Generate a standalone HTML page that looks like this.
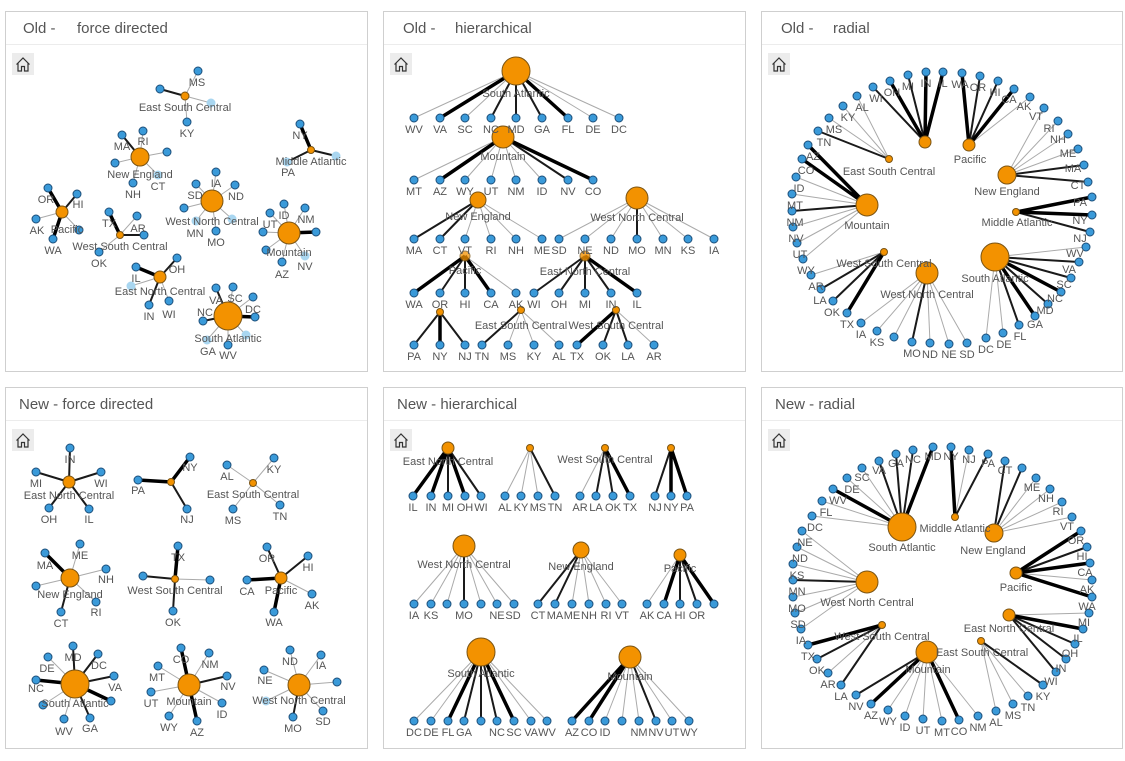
<!DOCTYPE html>
<html><head><meta charset="utf-8"><style>
html,body{margin:0;padding:0;background:#fff;}
svg{display:block;font-family:"Liberation Sans",sans-serif;}
.pn{fill:#fff;stroke:#cfcfcf;stroke-width:1}
.hd{stroke:#ececec;stroke-width:1}
.tt{font-size:15px;fill:#555}
.l{stroke:#aaa;stroke-width:1;fill:none}
.d{stroke:#1a1a1a;stroke-width:2;fill:none}
.D{stroke:#000;stroke-width:3.5;fill:none}
.lf circle{fill:#3a9ad9;stroke:#1d4f7a;stroke-width:1}
.hb circle{fill:#f39200;stroke:#7a5414;stroke-width:1}
.tx text{font-size:11px;fill:#555;text-anchor:middle}
.hm{fill:#ececec}
.hi{fill:none;stroke:#333;stroke-width:1.2}
</style></head><body>
<svg width="1125" height="761" viewBox="0 0 1125 761">
<rect class="pn" x="5.5" y="11.5" width="362" height="360"/>
<rect class="pn" x="383.5" y="11.5" width="362" height="360"/>
<rect class="pn" x="761.5" y="11.5" width="361" height="360"/>
<rect class="pn" x="5.5" y="387.5" width="362" height="361"/>
<rect class="pn" x="383.5" y="387.5" width="362" height="361"/>
<rect class="pn" x="761.5" y="387.5" width="361" height="361"/>
<line class="hd" x1="6" y1="44.5" x2="367" y2="44.5"/><line class="hd" x1="384" y1="44.5" x2="745" y2="44.5"/><line class="hd" x1="762" y1="44.5" x2="1122" y2="44.5"/>
<line class="hd" x1="6" y1="420.5" x2="367" y2="420.5"/><line class="hd" x1="384" y1="420.5" x2="745" y2="420.5"/><line class="hd" x1="762" y1="420.5" x2="1122" y2="420.5"/>
<text class="tt" x="23" y="33">Old -</text><text class="tt" x="77" y="33">force directed</text>
<text class="tt" x="403" y="33">Old -</text><text class="tt" x="455" y="33">hierarchical</text>
<text class="tt" x="781" y="33">Old -</text><text class="tt" x="833" y="33">radial</text>
<text class="tt" x="19" y="409">New - force directed</text>
<text class="tt" x="397" y="409">New - hierarchical</text>
<text class="tt" x="775" y="409">New - radial</text>
<g><rect class="hm" x="12" y="53" width="22" height="22"/><path class="hi" d="M16.5 64.5L23 58L29.5 64.5M18 63V71H21.5V66.5H24.5V71H28V63"/></g>
<g transform="translate(378,0)"><rect class="hm" x="12" y="53" width="22" height="22"/><path class="hi" d="M16.5 64.5L23 58L29.5 64.5M18 63V71H21.5V66.5H24.5V71H28V63"/></g>
<g transform="translate(756,0)"><rect class="hm" x="12" y="53" width="22" height="22"/><path class="hi" d="M16.5 64.5L23 58L29.5 64.5M18 63V71H21.5V66.5H24.5V71H28V63"/></g>
<g transform="translate(0,376)"><rect class="hm" x="12" y="53" width="22" height="22"/><path class="hi" d="M16.5 64.5L23 58L29.5 64.5M18 63V71H21.5V66.5H24.5V71H28V63"/></g>
<g transform="translate(378,376)"><rect class="hm" x="12" y="53" width="22" height="22"/><path class="hi" d="M16.5 64.5L23 58L29.5 64.5M18 63V71H21.5V66.5H24.5V71H28V63"/></g>
<g transform="translate(756,376)"><rect class="hm" x="12" y="53" width="22" height="22"/><path class="hi" d="M16.5 64.5L23 58L29.5 64.5M18 63V71H21.5V66.5H24.5V71H28V63"/></g>

<!-- PANEL 1 -->
<path class="l" d="M185 96L198 71M185 96L211 103M185 96L187 122M140 157L143 131M140 157L167 152M140 157L115 163M140 157L133 183M140 157L158 175M212 201L216 172M212 201L196 184M212 201L235 185M212 201L184 208M212 201L196 221M212 201L232 219M212 201L216 231M289 233L284 204M289 233L305 208M289 233L270 213M289 233L263 232M289 233L266 250M289 233L305 256M289 233L282 262M62 212L36 219M62 212L79 230M120 235L137 216M120 235L99 252M160 277L131 286M160 277L169 301M228 316L233 287M228 316L253 297M228 316L246 335M228 316L207 340M228 316L228 345"/>
<path class="d" d="M185 96L160 89M140 157L122 135M311 150L336 156M311 150L287 162M62 212L77 194M120 235L144 235M160 277L177 258M160 277L149 305M228 316L216 288M228 316L203 321"/>
<path class="D" d="M311 150L300 124M289 233L316 232M62 212L48 188M62 212L53 239M120 235L109 212M160 277L136 267M228 316L255 317"/>
<g class="lf">
<circle cx="198" cy="71" r="4"/><circle cx="160" cy="89" r="4"/><circle cx="211" cy="103" r="4" style="fill:#a9d6f0;stroke:#a9d6f0"/><circle cx="187" cy="122" r="4"/>
<circle cx="122" cy="135" r="4"/><circle cx="143" cy="131" r="4"/><circle cx="167" cy="152" r="4"/><circle cx="115" cy="163" r="4"/><circle cx="133" cy="183" r="4"/><circle cx="158" cy="175" r="4" style="fill:#a9d6f0;stroke:#a9d6f0"/>
<circle cx="300" cy="124" r="4"/><circle cx="336" cy="156" r="4" style="fill:#a9d6f0;stroke:#a9d6f0"/><circle cx="287" cy="162" r="4" style="fill:#a9d6f0;stroke:#a9d6f0"/>
<circle cx="216" cy="172" r="4"/><circle cx="196" cy="184" r="4"/><circle cx="235" cy="185" r="4"/><circle cx="184" cy="208" r="4"/><circle cx="196" cy="221" r="4" style="fill:#a9d6f0;stroke:#a9d6f0"/><circle cx="232" cy="219" r="4" style="fill:#a9d6f0;stroke:#a9d6f0"/><circle cx="216" cy="231" r="4"/>
<circle cx="284" cy="204" r="4"/><circle cx="305" cy="208" r="4"/><circle cx="270" cy="213" r="4"/><circle cx="316" cy="232" r="4"/><circle cx="263" cy="232" r="4"/><circle cx="266" cy="250" r="4"/><circle cx="305" cy="256" r="4" style="fill:#a9d6f0;stroke:#a9d6f0"/><circle cx="282" cy="262" r="4"/>
<circle cx="48" cy="188" r="4"/><circle cx="77" cy="194" r="4"/><circle cx="36" cy="219" r="4"/><circle cx="79" cy="230" r="4"/><circle cx="53" cy="239" r="4"/>
<circle cx="109" cy="212" r="4"/><circle cx="137" cy="216" r="4"/><circle cx="144" cy="235" r="4"/><circle cx="99" cy="252" r="4"/>
<circle cx="177" cy="258" r="4"/><circle cx="136" cy="267" r="4"/><circle cx="131" cy="286" r="4" style="fill:#a9d6f0;stroke:#a9d6f0"/><circle cx="149" cy="305" r="4"/><circle cx="169" cy="301" r="4"/>
<circle cx="216" cy="288" r="4"/><circle cx="233" cy="287" r="4"/><circle cx="253" cy="297" r="4"/><circle cx="203" cy="321" r="4"/><circle cx="255" cy="317" r="4"/><circle cx="246" cy="335" r="4" style="fill:#a9d6f0;stroke:#a9d6f0"/><circle cx="207" cy="340" r="4" style="fill:#a9d6f0;stroke:#a9d6f0"/><circle cx="228" cy="345" r="4"/>
</g>
<g class="hb"><circle cx="185" cy="96" r="4"/><circle cx="140" cy="157" r="9"/><circle cx="311" cy="150" r="3.5"/><circle cx="212" cy="201" r="11"/><circle cx="289" cy="233" r="11"/><circle cx="62" cy="212" r="6"/><circle cx="120" cy="235" r="3.5"/><circle cx="160" cy="277" r="6"/><circle cx="228" cy="316" r="14"/></g>
<g class="tx">
<text x="197" y="86">MS</text><text x="185" y="111">East South Central</text><text x="187" y="137">KY</text>
<text x="122" y="150">MA</text><text x="143" y="145">RI</text><text x="140" y="178">New England</text><text x="158" y="190">CT</text><text x="133" y="198">NH</text>
<text x="300" y="139">NY</text><text x="311" y="165">Middle Atlantic</text><text x="288" y="176">PA</text>
<text x="216" y="187">IA</text><text x="195" y="199">SD</text><text x="236" y="200">ND</text><text x="212" y="225">West North Central</text><text x="195" y="237">MN</text><text x="216" y="246">MO</text>
<text x="284" y="219">ID</text><text x="306" y="223">NM</text><text x="270" y="228">UT</text><text x="289" y="256">Mountain</text><text x="305" y="270">NV</text><text x="282" y="278">AZ</text>
<text x="46" y="203">OR</text><text x="78" y="208">HI</text><text x="37" y="234">AK</text><text x="67" y="233">Pacific</text><text x="53" y="254">WA</text>
<text x="109" y="227">TX</text><text x="138" y="232">AR</text><text x="120" y="250">West South Central</text><text x="99" y="267">OK</text>
<text x="177" y="273">OH</text><text x="136" y="282">IL</text><text x="160" y="295">East North Central</text><text x="149" y="320">IN</text><text x="169" y="318">WI</text>
<text x="216" y="304">VA</text><text x="235" y="302">SC</text><text x="253" y="313">DC</text><text x="205" y="316">NC</text><text x="228" y="342">South Atlantic</text><text x="208" y="355">GA</text><text x="228" y="359">WV</text>
</g>

<!-- PANEL 2 -->
<path class="l" d="M516 71L414 118M516 71L465 118M516 71L593 118M516 71L619 118M503 137L414 180M503 137L465 180M503 137L491 180M503 137L516 180M503 137L542 180M478 200L465 239M478 200L491 239M478 200L516 239M478 200L542 239M637 198L559 239M637 198L585 239M637 198L611 239M637 198L663 239M637 198L688 239M637 198L714 239M465 256L516 293M521 310L508 345M521 310L534 345M521 310L559 345M616 310L654 345"/>
<path class="d" d="M516 71L491 118M516 71L516 118M516 71L542 118M503 137L568 180M478 200L414 239M478 200L440 239M637 198L637 239M465 256L440 293M465 256L465 293M585 256L534 293M585 256L559 293M585 256L585 293M585 256L611 293M440 312L414 345M440 312L465 345M521 310L482 345M616 310L603 345M616 310L628 345"/>
<path class="D" d="M516 71L440 118M516 71L568 118M503 137L440 180M503 137L593 180M465 256L414 293M465 256L491 293M585 256L637 293M440 312L440 345M616 310L577 345"/>
<g class="lf">
<circle cx="414" cy="118" r="4"/><circle cx="440" cy="118" r="4"/><circle cx="465" cy="118" r="4"/><circle cx="491" cy="118" r="4"/><circle cx="516" cy="118" r="4"/><circle cx="542" cy="118" r="4"/><circle cx="568" cy="118" r="4"/><circle cx="593" cy="118" r="4"/><circle cx="619" cy="118" r="4"/>
<circle cx="414" cy="180" r="4"/><circle cx="440" cy="180" r="4"/><circle cx="465" cy="180" r="4"/><circle cx="491" cy="180" r="4"/><circle cx="516" cy="180" r="4"/><circle cx="542" cy="180" r="4"/><circle cx="568" cy="180" r="4"/><circle cx="593" cy="180" r="4"/>
<circle cx="414" cy="239" r="4"/><circle cx="440" cy="239" r="4"/><circle cx="465" cy="239" r="4"/><circle cx="491" cy="239" r="4"/><circle cx="516" cy="239" r="4"/><circle cx="542" cy="239" r="4"/>
<circle cx="559" cy="239" r="4"/><circle cx="585" cy="239" r="4"/><circle cx="611" cy="239" r="4"/><circle cx="637" cy="239" r="4"/><circle cx="663" cy="239" r="4"/><circle cx="688" cy="239" r="4"/><circle cx="714" cy="239" r="4"/>
<circle cx="414" cy="293" r="4"/><circle cx="440" cy="293" r="4"/><circle cx="465" cy="293" r="4"/><circle cx="491" cy="293" r="4"/><circle cx="516" cy="293" r="4"/>
<circle cx="534" cy="293" r="4"/><circle cx="559" cy="293" r="4"/><circle cx="585" cy="293" r="4"/><circle cx="611" cy="293" r="4"/><circle cx="637" cy="293" r="4"/>
<circle cx="414" cy="345" r="4"/><circle cx="440" cy="345" r="4"/><circle cx="465" cy="345" r="4"/>
<circle cx="482" cy="345" r="4"/><circle cx="508" cy="345" r="4"/><circle cx="534" cy="345" r="4"/><circle cx="559" cy="345" r="4"/>
<circle cx="577" cy="345" r="4"/><circle cx="603" cy="345" r="4"/><circle cx="628" cy="345" r="4"/><circle cx="654" cy="345" r="4"/>
</g>
<g class="hb"><circle cx="516" cy="71" r="14"/><circle cx="503" cy="137" r="11"/><circle cx="478" cy="200" r="8"/><circle cx="637" cy="198" r="11"/><circle cx="465" cy="256" r="5" style="opacity:.75"/><circle cx="585" cy="256" r="5" style="opacity:.8"/><circle cx="440" cy="312" r="3.5"/><circle cx="521" cy="310" r="3.5"/><circle cx="616" cy="310" r="3.5"/></g>
<g class="tx">
<text x="516" y="97">South Atlantic</text><text x="503" y="160">Mountain</text><text x="478" y="220">New England</text><text x="637" y="221">West North Central</text><text x="465" y="274">Pacific</text><text x="585" y="275">East North Central</text><text x="521" y="329">East South Central</text><text x="616" y="329">West South Central</text>
<text x="414" y="133">WV</text><text x="440" y="133">VA</text><text x="465" y="133">SC</text><text x="491" y="133">NC</text><text x="516" y="133">MD</text><text x="542" y="133">GA</text><text x="568" y="133">FL</text><text x="593" y="133">DE</text><text x="619" y="133">DC</text>
<text x="414" y="195">MT</text><text x="440" y="195">AZ</text><text x="465" y="195">WY</text><text x="491" y="195">UT</text><text x="516" y="195">NM</text><text x="542" y="195">ID</text><text x="568" y="195">NV</text><text x="593" y="195">CO</text>
<text x="414" y="254">MA</text><text x="440" y="254">CT</text><text x="465" y="254">VT</text><text x="491" y="254">RI</text><text x="516" y="254">NH</text><text x="542" y="254">ME</text>
<text x="559" y="254">SD</text><text x="585" y="254">NE</text><text x="611" y="254">ND</text><text x="637" y="254">MO</text><text x="663" y="254">MN</text><text x="688" y="254">KS</text><text x="714" y="254">IA</text>
<text x="414" y="308">WA</text><text x="440" y="308">OR</text><text x="465" y="308">HI</text><text x="491" y="308">CA</text><text x="516" y="308">AK</text>
<text x="534" y="308">WI</text><text x="559" y="308">OH</text><text x="585" y="308">MI</text><text x="611" y="308">IN</text><text x="637" y="308">IL</text>
<text x="414" y="360">PA</text><text x="440" y="360">NY</text><text x="465" y="360">NJ</text>
<text x="482" y="360">TN</text><text x="508" y="360">MS</text><text x="534" y="360">KY</text><text x="559" y="360">AL</text>
<text x="577" y="360">TX</text><text x="603" y="360">OK</text><text x="628" y="360">LA</text><text x="654" y="360">AR</text>
</g>

<!-- PANEL 3 -->
<path class="l" d="M969 145L1030 97M1007 175L1044 108M1007 175L1058 121M1007 175L1068 134M1007 175L1078 149M995 257L1086 247M995 257L1003 333M995 257L986 338M927 273L967 343M927 273L949 344M927 273L930 343M927 273L894 337M927 273L877 331M927 273L861 323M884 252L811 275M867 205L803 259M867 205L797 243M867 205L793 227M867 205L792 194M867 205L796 177M889 159L829 118M889 159L843 106M889 159L857 96"/>
<path class="d" d="M925 142L873 87M925 142L908 75M969 145L980 76M969 145L998 81M1007 175L1084 165M1007 175L1088 182M1016 212L1090 232M995 257L1079 262M995 257L1071 278M995 257L1048 304M995 257L1019 325M927 273L912 342M884 252L833 301M884 252L821 289M867 205L792 211M889 159L818 131"/>
<path class="D" d="M925 142L890 81M925 142L926 72M925 142L943 72M969 145L962 73M969 145L1014 89M1016 212L1092 197M1016 212L1092 215M995 257L1061 292M995 257L1035 316M884 252L847 313M867 205L802 159M867 205L808 145"/>
<g class="lf">
<circle cx="811" cy="275" r="4"/><circle cx="803" cy="259" r="4"/><circle cx="797" cy="243" r="4"/><circle cx="793" cy="227" r="4"/><circle cx="792" cy="211" r="4"/><circle cx="792" cy="194" r="4"/><circle cx="796" cy="177" r="4"/><circle cx="802" cy="159" r="4"/><circle cx="808" cy="145" r="4"/><circle cx="818" cy="131" r="4"/><circle cx="829" cy="118" r="4"/><circle cx="843" cy="106" r="4"/><circle cx="857" cy="96" r="4"/><circle cx="873" cy="87" r="4"/><circle cx="890" cy="81" r="4"/><circle cx="908" cy="75" r="4"/><circle cx="926" cy="72" r="4"/><circle cx="943" cy="72" r="4"/><circle cx="962" cy="73" r="4"/><circle cx="980" cy="76" r="4"/><circle cx="998" cy="81" r="4"/><circle cx="1014" cy="89" r="4"/><circle cx="1030" cy="97" r="4"/><circle cx="1044" cy="108" r="4"/><circle cx="1058" cy="121" r="4"/><circle cx="1068" cy="134" r="4"/><circle cx="1078" cy="149" r="4"/><circle cx="1084" cy="165" r="4"/><circle cx="1088" cy="182" r="4"/><circle cx="1092" cy="197" r="4"/><circle cx="1092" cy="215" r="4"/><circle cx="1090" cy="232" r="4"/><circle cx="1086" cy="247" r="4"/><circle cx="1079" cy="262" r="4"/><circle cx="1071" cy="278" r="4"/><circle cx="1061" cy="292" r="4"/><circle cx="1048" cy="304" r="4"/><circle cx="1035" cy="316" r="4"/><circle cx="1019" cy="325" r="4"/><circle cx="1003" cy="333" r="4"/><circle cx="986" cy="338" r="4"/><circle cx="967" cy="343" r="4"/><circle cx="949" cy="344" r="4"/><circle cx="930" cy="343" r="4"/><circle cx="912" cy="342" r="4"/><circle cx="894" cy="337" r="4"/><circle cx="877" cy="331" r="4"/><circle cx="861" cy="323" r="4"/><circle cx="847" cy="313" r="4"/><circle cx="833" cy="301" r="4"/><circle cx="821" cy="289" r="4"/>
</g>
<g class="hb"><circle cx="925" cy="142" r="6"/><circle cx="969" cy="145" r="6"/><circle cx="1007" cy="175" r="9"/><circle cx="1016" cy="212" r="3.5"/><circle cx="995" cy="257" r="14"/><circle cx="927" cy="273" r="11"/><circle cx="884" cy="252" r="3.5"/><circle cx="867" cy="205" r="11"/><circle cx="889" cy="159" r="3.5"/></g>
<g class="tx">
<text x="889" y="175">East South Central</text><text x="970" y="163">Pacific</text><text x="1007" y="195">New England</text><text x="1017" y="226">Middle Atlantic</text><text x="995" y="282">South Atlantic</text><text x="927" y="298">West North Central</text><text x="884" y="267">West South Central</text><text x="867" y="229">Mountain</text>
<text x="816" y="290">AR</text><text x="806" y="274">WY</text><text x="800" y="258">UT</text><text x="796" y="242">NV</text><text x="795" y="226">NM</text><text x="795" y="209">MT</text><text x="799" y="192">ID</text><text x="806" y="174">CO</text><text x="813" y="160">AZ</text><text x="824" y="146">TN</text><text x="834" y="133">MS</text><text x="848" y="121">KY</text><text x="862" y="111">AL</text><text x="876" y="102">WI</text><text x="892" y="96">OH</text><text x="908" y="90">MI</text><text x="926" y="87">IN</text><text x="943" y="87">IL</text><text x="960" y="88">WA</text><text x="978" y="91">OR</text><text x="995" y="96">HI</text><text x="1009" y="103">CA</text><text x="1024" y="110">AK</text><text x="1036" y="120">VT</text><text x="1049" y="132">RI</text><text x="1058" y="143">NH</text><text x="1068" y="157">ME</text><text x="1073" y="172">MA</text><text x="1078" y="189">CT</text><text x="1080" y="206">PA</text><text x="1080" y="224">NY</text><text x="1080" y="242">NJ</text><text x="1075" y="257">WV</text><text x="1069" y="273">VA</text><text x="1064" y="288">SC</text><text x="1055" y="302">NC</text><text x="1045" y="314">MD</text><text x="1035" y="328">GA</text><text x="1020" y="340">FL</text><text x="1004" y="348">DE</text><text x="986" y="353">DC</text><text x="967" y="358">SD</text><text x="949" y="358">NE</text><text x="930" y="358">ND</text><text x="912" y="357">MO</text><text x="877" y="346">KS</text><text x="861" y="338">IA</text><text x="847" y="328">TX</text><text x="832" y="316">OK</text><text x="820" y="304">LA</text>
</g>

<!-- PANEL 4 -->
<path class="l" d="M253 483L227 465M253 483L274 458M253 483L280 505M253 483L233 509M70 578L80 544M70 578L106 569M70 578L36 586M70 578L96 602M175 579L210 580M281 578L312 594M75 684L48 657M75 684L43 705M75 684L64 719M189 685L209 653M189 685L158 666M189 685L151 692M189 685L222 703M189 685L169 716M299 685L290 650M299 685L321 655M299 685L264 670M299 685L337 682M299 685L266 701M299 685L323 711"/>
<path class="d" d="M69 482L70 448M69 482L36 472M69 482L101 472M69 482L49 508M69 482L89 509M171 482L187 509M70 578L61 612M175 579L143 576M175 579L173 611M281 578L267 547M281 578L308 556M75 684L73 646M75 684L98 654M75 684L114 676M75 684L90 718M189 685L227 676M299 685L293 717"/>
<path class="D" d="M171 482L190 457M171 482L138 480M70 578L45 553M175 579L178 546M281 578L247 580M281 578L274 612M75 684L36 680M75 684L111 701M189 685L181 648M189 685L197 721"/>
<g class="lf">
<circle cx="70" cy="448" r="4"/><circle cx="36" cy="472" r="4"/><circle cx="101" cy="472" r="4"/><circle cx="49" cy="508" r="4"/><circle cx="89" cy="509" r="4"/>
<circle cx="190" cy="457" r="4"/><circle cx="138" cy="480" r="4"/><circle cx="187" cy="509" r="4"/>
<circle cx="227" cy="465" r="4"/><circle cx="274" cy="458" r="4"/><circle cx="280" cy="505" r="4"/><circle cx="233" cy="509" r="4"/>
<circle cx="80" cy="544" r="4"/><circle cx="45" cy="553" r="4"/><circle cx="106" cy="569" r="4"/><circle cx="36" cy="586" r="4"/><circle cx="61" cy="612" r="4"/><circle cx="96" cy="602" r="4"/>
<circle cx="178" cy="546" r="4"/><circle cx="143" cy="576" r="4"/><circle cx="210" cy="580" r="4"/><circle cx="173" cy="611" r="4"/>
<circle cx="267" cy="547" r="4"/><circle cx="308" cy="556" r="4"/><circle cx="247" cy="580" r="4"/><circle cx="312" cy="594" r="4"/><circle cx="274" cy="612" r="4"/>
<circle cx="73" cy="646" r="4"/><circle cx="98" cy="654" r="4"/><circle cx="48" cy="657" r="4"/><circle cx="114" cy="676" r="4"/><circle cx="36" cy="680" r="4"/><circle cx="111" cy="701" r="4"/><circle cx="43" cy="705" r="4"/><circle cx="64" cy="719" r="4"/><circle cx="90" cy="718" r="4"/>
<circle cx="181" cy="648" r="4"/><circle cx="209" cy="653" r="4"/><circle cx="158" cy="666" r="4"/><circle cx="227" cy="676" r="4"/><circle cx="151" cy="692" r="4"/><circle cx="222" cy="703" r="4"/><circle cx="169" cy="716" r="4"/><circle cx="197" cy="721" r="4"/>
<circle cx="290" cy="650" r="4"/><circle cx="321" cy="655" r="4"/><circle cx="264" cy="670" r="4"/><circle cx="337" cy="682" r="4"/><circle cx="266" cy="701" r="4" style="fill:#a9d6f0;stroke:#a9d6f0"/><circle cx="293" cy="717" r="4"/><circle cx="323" cy="711" r="4"/>
</g>
<g class="hb"><circle cx="69" cy="482" r="6"/><circle cx="171" cy="482" r="3.5"/><circle cx="253" cy="483" r="3.5"/><circle cx="70" cy="578" r="9"/><circle cx="175" cy="579" r="3.5"/><circle cx="281" cy="578" r="6"/><circle cx="75" cy="684" r="14"/><circle cx="189" cy="685" r="11"/><circle cx="299" cy="685" r="11"/></g>
<g class="tx">
<text x="70" y="463">IN</text><text x="36" y="487">MI</text><text x="101" y="487">WI</text><text x="69" y="499">East North Central</text><text x="49" y="523">OH</text><text x="89" y="523">IL</text>
<text x="190" y="471">NY</text><text x="138" y="494">PA</text><text x="187" y="523">NJ</text>
<text x="227" y="480">AL</text><text x="274" y="473">KY</text><text x="253" y="498">East South Central</text><text x="280" y="520">TN</text><text x="233" y="524">MS</text>
<text x="80" y="559">ME</text><text x="45" y="569">MA</text><text x="106" y="583">NH</text><text x="70" y="598">New England</text><text x="61" y="627">CT</text><text x="96" y="616">RI</text>
<text x="178" y="561">TX</text><text x="175" y="594">West South Central</text><text x="173" y="626">OK</text>
<text x="267" y="562">OR</text><text x="308" y="571">HI</text><text x="247" y="595">CA</text><text x="281" y="594">Pacific</text><text x="312" y="609">AK</text><text x="274" y="626">WA</text>
<text x="73" y="661">MD</text><text x="47" y="672">DE</text><text x="99" y="669">DC</text><text x="115" y="691">VA</text><text x="36" y="692">NC</text><text x="75" y="707">South Atlantic</text><text x="64" y="735">WV</text><text x="90" y="732">GA</text>
<text x="181" y="663">CO</text><text x="210" y="668">NM</text><text x="157" y="681">MT</text><text x="228" y="690">NV</text><text x="151" y="707">UT</text><text x="189" y="705">Mountain</text><text x="222" y="718">ID</text><text x="169" y="731">WY</text><text x="197" y="736">AZ</text>
<text x="290" y="665">ND</text><text x="321" y="669">IA</text><text x="265" y="684">NE</text><text x="299" y="704">West North Central</text><text x="293" y="732">MO</text><text x="323" y="725">SD</text>
</g>

<!-- PANEL 5 -->
<path class="l" d="M530 448L505 496M530 448L521 496M530 448L538 496M605 448L580 496M464 546L414 604M464 546L431 604M464 546L447 604M464 546L481 604M464 546L497 604M464 546L514 604M581 550L572 604M581 550L589 604M581 550L606 604M581 550L622 604M680 555L647 604M481 652L414 721M481 652L431 721M481 652L531 721M481 652L547 721M630 657L605 721M630 657L622 721M630 657L639 721M630 657L672 721M630 657L689 721"/>
<path class="d" d="M448 448L448 496M448 448L481 496M530 448L555 496M605 448L596 496M605 448L613 496M671 448L655 496M464 546L464 604M581 550L538 604M581 550L555 604M680 555L680 604M680 555L697 604M481 652L464 721M481 652L481 721M481 652L497 721M630 657L656 721"/>
<path class="D" d="M448 448L413 496M448 448L431 496M448 448L465 496M605 448L630 496M671 448L671 496M671 448L687 496M680 555L664 604M680 555L714 604M481 652L448 721M481 652L514 721M630 657L572 721M630 657L589 721"/>
<g class="lf">
<circle cx="413" cy="496" r="4"/><circle cx="431" cy="496" r="4"/><circle cx="448" cy="496" r="4"/><circle cx="465" cy="496" r="4"/><circle cx="481" cy="496" r="4"/>
<circle cx="505" cy="496" r="4"/><circle cx="521" cy="496" r="4"/><circle cx="538" cy="496" r="4"/><circle cx="555" cy="496" r="4"/>
<circle cx="580" cy="496" r="4"/><circle cx="596" cy="496" r="4"/><circle cx="613" cy="496" r="4"/><circle cx="630" cy="496" r="4"/>
<circle cx="655" cy="496" r="4"/><circle cx="671" cy="496" r="4"/><circle cx="687" cy="496" r="4"/>
<circle cx="414" cy="604" r="4"/><circle cx="431" cy="604" r="4"/><circle cx="447" cy="604" r="4"/><circle cx="464" cy="604" r="4"/><circle cx="481" cy="604" r="4"/><circle cx="497" cy="604" r="4"/><circle cx="514" cy="604" r="4"/>
<circle cx="538" cy="604" r="4"/><circle cx="555" cy="604" r="4"/><circle cx="572" cy="604" r="4"/><circle cx="589" cy="604" r="4"/><circle cx="606" cy="604" r="4"/><circle cx="622" cy="604" r="4"/>
<circle cx="647" cy="604" r="4"/><circle cx="664" cy="604" r="4"/><circle cx="680" cy="604" r="4"/><circle cx="697" cy="604" r="4"/><circle cx="714" cy="604" r="4"/>
<circle cx="414" cy="721" r="4"/><circle cx="431" cy="721" r="4"/><circle cx="448" cy="721" r="4"/><circle cx="464" cy="721" r="4"/><circle cx="481" cy="721" r="4"/><circle cx="497" cy="721" r="4"/><circle cx="514" cy="721" r="4"/><circle cx="531" cy="721" r="4"/><circle cx="547" cy="721" r="4"/>
<circle cx="572" cy="721" r="4"/><circle cx="589" cy="721" r="4"/><circle cx="605" cy="721" r="4"/><circle cx="622" cy="721" r="4"/><circle cx="639" cy="721" r="4"/><circle cx="656" cy="721" r="4"/><circle cx="672" cy="721" r="4"/><circle cx="689" cy="721" r="4"/>
</g>
<g class="hb"><circle cx="448" cy="448" r="6"/><circle cx="530" cy="448" r="3.5"/><circle cx="605" cy="448" r="3.5"/><circle cx="671" cy="448" r="3.5"/><circle cx="464" cy="546" r="11"/><circle cx="581" cy="550" r="8"/><circle cx="680" cy="555" r="6"/><circle cx="481" cy="652" r="14"/><circle cx="630" cy="657" r="11"/></g>
<g class="tx">
<text x="448" y="465">East North Central</text><text x="605" y="463">West South Central</text><text x="464" y="568">West North Central</text><text x="581" y="570">New England</text><text x="680" y="572">Pacific</text><text x="481" y="677">South Atlantic</text><text x="630" y="680">Mountain</text>
<text x="413" y="511">IL</text><text x="431" y="511">IN</text><text x="448" y="511">MI</text><text x="465" y="511">OH</text><text x="481" y="511">WI</text>
<text x="505" y="511">AL</text><text x="521" y="511">KY</text><text x="538" y="511">MS</text><text x="555" y="511">TN</text>
<text x="580" y="511">AR</text><text x="596" y="511">LA</text><text x="613" y="511">OK</text><text x="630" y="511">TX</text>
<text x="655" y="511">NJ</text><text x="671" y="511">NY</text><text x="687" y="511">PA</text>
<text x="414" y="619">IA</text><text x="431" y="619">KS</text><text x="464" y="619">MO</text><text x="497" y="619">NE</text><text x="513" y="619">SD</text>
<text x="538" y="619">CT</text><text x="555" y="619">MA</text><text x="572" y="619">ME</text><text x="589" y="619">NH</text><text x="606" y="619">RI</text><text x="622" y="619">VT</text>
<text x="647" y="619">AK</text><text x="664" y="619">CA</text><text x="680" y="619">HI</text><text x="697" y="619">OR</text>
<text x="414" y="736">DC</text><text x="431" y="736">DE</text><text x="448" y="736">FL</text><text x="464" y="736">GA</text><text x="497" y="736">NC</text><text x="514" y="736">SC</text><text x="531" y="736">VA</text><text x="547" y="736">WV</text>
<text x="572" y="736">AZ</text><text x="589" y="736">CO</text><text x="605" y="736">ID</text><text x="639" y="736">NM</text><text x="656" y="736">NV</text><text x="672" y="736">UT</text><text x="689" y="736">WY</text>
</g>

<!-- PANEL 6 -->
<path class="l" d="M902 527L862 468M902 527L812 516M902 527L822 501M902 527L847 478M955 517L969 450M994 533L1036 478M994 533L1050 489M994 533L1062 502M994 533L1072 517M1016 573L1092 580M1009 615L1089 613M981 641L1028 696M981 641L1013 704M981 641L996 711M927 652L978 716M927 652L942 721M927 652L923 719M927 652L905 716M927 652L888 710M882 625L828 673M867 582L801 629M867 582L795 613M867 582L793 597M867 582L793 564M867 582L797 547M867 582L802 531"/>
<path class="d" d="M902 527L879 461M902 527L896 454M902 527L913 450M955 517L988 454M994 533L1005 461M994 533L1022 468M1016 573L1087 547M1009 615L1075 644M1009 615L1066 659M1009 615L1056 672M981 641L1043 685M927 652L856 695M882 625L841 685M882 625L817 659M867 582L793 580"/>
<path class="D" d="M902 527L933 447M902 527L833 489M955 517L951 447M1016 573L1081 531M1016 573L1090 563M1016 573L1092 597M1009 615L1083 629M927 652L959 720M927 652L871 704M882 625L808 645"/>
<g class="lf">
<circle cx="862" cy="468" r="4"/><circle cx="879" cy="461" r="4"/><circle cx="896" cy="454" r="4"/><circle cx="913" cy="450" r="4"/><circle cx="933" cy="447" r="4"/><circle cx="951" cy="447" r="4"/><circle cx="969" cy="450" r="4"/><circle cx="988" cy="454" r="4"/><circle cx="1005" cy="461" r="4"/><circle cx="1022" cy="468" r="4"/><circle cx="1036" cy="478" r="4"/><circle cx="1050" cy="489" r="4"/><circle cx="1062" cy="502" r="4"/><circle cx="1072" cy="517" r="4"/><circle cx="1081" cy="531" r="4"/><circle cx="1087" cy="547" r="4"/><circle cx="1090" cy="563" r="4"/><circle cx="1092" cy="580" r="4"/><circle cx="1092" cy="597" r="4"/><circle cx="1089" cy="613" r="4"/><circle cx="1083" cy="629" r="4"/><circle cx="1075" cy="644" r="4"/><circle cx="1066" cy="659" r="4"/><circle cx="1056" cy="672" r="4"/><circle cx="1043" cy="685" r="4"/><circle cx="1028" cy="696" r="4"/><circle cx="1013" cy="704" r="4"/><circle cx="996" cy="711" r="4"/><circle cx="978" cy="716" r="4"/><circle cx="959" cy="720" r="4"/><circle cx="942" cy="721" r="4"/><circle cx="923" cy="719" r="4"/><circle cx="905" cy="716" r="4"/><circle cx="888" cy="710" r="4"/><circle cx="871" cy="704" r="4"/><circle cx="856" cy="695" r="4"/><circle cx="841" cy="685" r="4"/><circle cx="828" cy="673" r="4"/><circle cx="817" cy="659" r="4"/><circle cx="808" cy="645" r="4"/><circle cx="801" cy="629" r="4"/><circle cx="795" cy="613" r="4"/><circle cx="793" cy="597" r="4"/><circle cx="793" cy="580" r="4"/><circle cx="793" cy="564" r="4"/><circle cx="797" cy="547" r="4"/><circle cx="802" cy="531" r="4"/><circle cx="812" cy="516" r="4"/><circle cx="822" cy="501" r="4"/><circle cx="833" cy="489" r="4"/><circle cx="847" cy="478" r="4"/>
</g>
<g class="hb"><circle cx="902" cy="527" r="14"/><circle cx="955" cy="517" r="3.5"/><circle cx="994" cy="533" r="9"/><circle cx="1016" cy="573" r="6"/><circle cx="1009" cy="615" r="6"/><circle cx="981" cy="641" r="3.5"/><circle cx="927" cy="652" r="11"/><circle cx="882" cy="625" r="3.5"/><circle cx="867" cy="582" r="11"/></g>
<g class="tx">
<text x="902" y="551">South Atlantic</text><text x="955" y="532">Middle Atlantic</text><text x="993" y="554">New England</text><text x="1016" y="591">Pacific</text><text x="1009" y="632">East North Central</text><text x="982" y="656">East South Central</text><text x="867" y="606">West North Central</text><text x="882" y="640">West South Central</text><text x="928" y="673">Mountain</text>
<text x="862" y="481">SC</text><text x="879" y="474">VA</text><text x="896" y="467">GA</text><text x="913" y="463">NC</text><text x="933" y="460">MD</text><text x="951" y="460">NY</text><text x="969" y="463">NJ</text><text x="988" y="467">PA</text><text x="1005" y="474">CT</text><text x="1032" y="491">ME</text><text x="1046" y="502">NH</text><text x="1058" y="515">RI</text><text x="1067" y="530">VT</text><text x="1076" y="544">OR</text><text x="1082" y="560">HI</text><text x="1085" y="576">CA</text><text x="1087" y="593">AK</text><text x="1087" y="610">WA</text><text x="1084" y="626">MI</text><text x="1078" y="642">IL</text><text x="1070" y="657">OH</text><text x="1061" y="672">IN</text><text x="1051" y="685">WI</text><text x="1043" y="700">KY</text><text x="1028" y="711">TN</text><text x="1013" y="719">MS</text><text x="996" y="726">AL</text><text x="978" y="731">NM</text><text x="959" y="735">CO</text><text x="942" y="736">MT</text><text x="923" y="734">UT</text><text x="905" y="731">ID</text><text x="888" y="725">WY</text><text x="871" y="719">AZ</text><text x="856" y="710">NV</text><text x="841" y="700">LA</text><text x="828" y="688">AR</text><text x="817" y="674">OK</text><text x="808" y="660">TX</text><text x="801" y="644">IA</text><text x="798" y="628">SD</text><text x="797" y="612">MO</text><text x="797" y="595">MN</text><text x="797" y="579">KS</text><text x="800" y="562">ND</text><text x="805" y="546">NE</text><text x="815" y="531">DC</text><text x="826" y="516">FL</text><text x="838" y="504">WV</text><text x="852" y="493">DE</text>
</g>
</svg>
</body></html>
